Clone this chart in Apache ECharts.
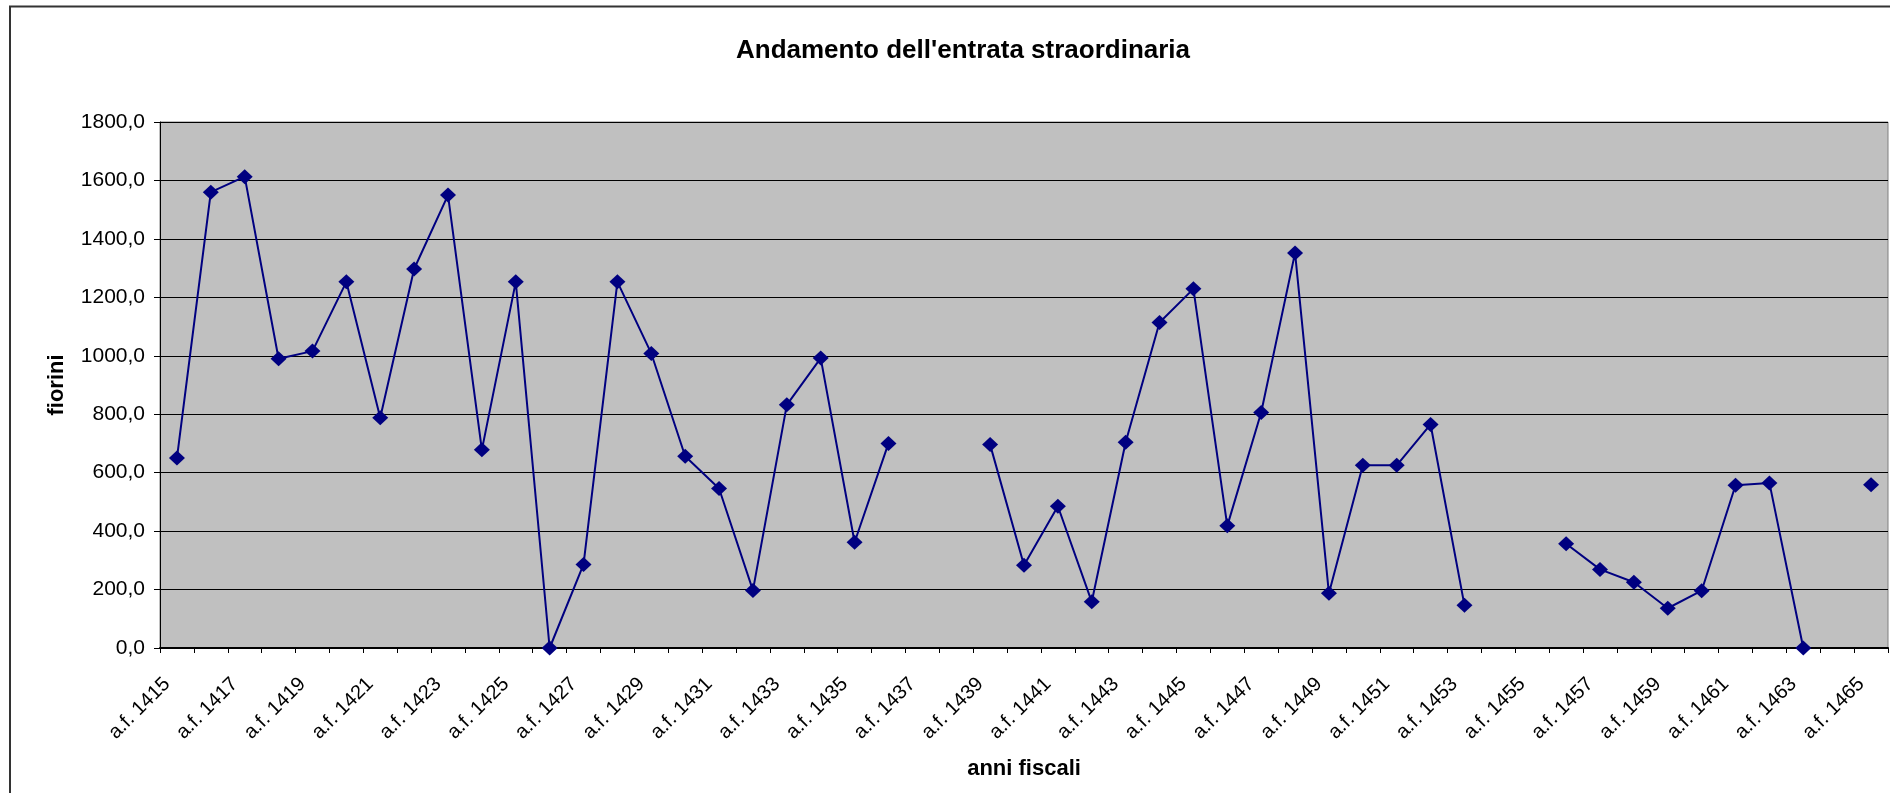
<!DOCTYPE html>
<html>
<head>
<meta charset="utf-8">
<title>Andamento dell'entrata straordinaria</title>
<script src="https://cdn.jsdelivr.net/npm/echarts@6/dist/echarts.min.js"></script>
<style>
  html, body { margin: 0; padding: 0; background: #fff; }
  #chart { width: 1890px; height: 793px; }
</style>
</head>
<body>
<div id="chart"></div>
<script>
// anni fiscali
const anni = [
  'a.f. 1415', 'a.f. 1416', 'a.f. 1417', 'a.f. 1418', 'a.f. 1419', 'a.f. 1420',
  'a.f. 1421', 'a.f. 1422', 'a.f. 1423', 'a.f. 1424', 'a.f. 1425', 'a.f. 1426',
  'a.f. 1427', 'a.f. 1428', 'a.f. 1429', 'a.f. 1430', 'a.f. 1431', 'a.f. 1432',
  'a.f. 1433', 'a.f. 1434', 'a.f. 1435', 'a.f. 1436', 'a.f. 1437', 'a.f. 1438',
  'a.f. 1439', 'a.f. 1440', 'a.f. 1441', 'a.f. 1442', 'a.f. 1443', 'a.f. 1444',
  'a.f. 1445', 'a.f. 1446', 'a.f. 1447', 'a.f. 1448', 'a.f. 1449', 'a.f. 1450',
  'a.f. 1451', 'a.f. 1452', 'a.f. 1453', 'a.f. 1454', 'a.f. 1455', 'a.f. 1456',
  'a.f. 1457', 'a.f. 1458', 'a.f. 1459', 'a.f. 1460', 'a.f. 1461', 'a.f. 1462',
  'a.f. 1463', 'a.f. 1464', 'a.f. 1465'
];

// entrata straordinaria (fiorini), null = anno senza dato
const entrata = [
  650, 1560, 1613, 990, 1016, 1253,
  788, 1297, 1550, 678, 1253, 0,
  286, 1253, 1008, 656, 546, 197,
  832, 992, 362, 700, null, null,
  696, 283, 485, 158, 704, 1114,
  1229, 418, 806, 1352, 187, 625,
  625, 765, 146, null, null, 357,
  269, 225, 136, 196, 557, 565,
  0, null, 559
];

const yMin = 0, yMax = 1800, yStep = 200;

const font = 'Liberation Sans, Arial, sans-serif';
const chart = echarts.init(document.getElementById('chart'));

const option = {
    animation: false,
    backgroundColor: '#fff',
    title: {
        text: "Andamento dell'entrata straordinaria",
        left: 958,
        textAlign: 'center',
        top: 33,
        textStyle: { fontFamily: font, fontSize: 26, fontWeight: 'bold', color: '#000' }
    },
    graphic: [{
        type: 'rect',
        shape: { x: 10, y: 6.5, width: 1900, height: 820 },
        style: { fill: 'none', stroke: '#333', lineWidth: 2 },
        silent: true
    }],
    grid: {
        left: 160,
        right: 2,
        top: 122,
        bottom: 145,
        show: true,
        backgroundColor: '#C0C0C0',
        borderColor: '#808080',
        borderWidth: 1
    },
    xAxis: {
        type: 'category',
        data: anni,
        boundaryGap: true,
        name: 'anni fiscali',
        nameLocation: 'middle',
        nameGap: 110,
        nameTextStyle: { fontFamily: font, fontSize: 22, fontWeight: 'bold', color: '#000' },
        axisLine: { show: true, lineStyle: { color: '#000', width: 2 } },
        axisTick: { show: true, interval: 0, length: 5, lineStyle: { color: '#000', width: 1 } },
        axisLabel: {
            interval: 1,
            rotate: 45,
            margin: 23,
            padding: [0, 14, 0, 0],
            fontFamily: font,
            fontSize: 20,
            color: '#000'
        },
        splitLine: { show: false }
    },
    yAxis: {
        type: 'value',
        min: yMin,
        max: yMax,
        interval: yStep,
        name: 'fiorini',
        nameLocation: 'middle',
        nameGap: 92,
        nameRotate: 90,
        nameTextStyle: { fontFamily: font, fontSize: 22, fontWeight: 'bold', color: '#000' },
        axisLine: { show: true, lineStyle: { color: '#000', width: 1 } },
        axisTick: { show: true, length: 6, lineStyle: { color: '#000' } },
        axisLabel: {
            margin: 15,
            fontFamily: font,
            fontSize: 21,
            color: '#000',
            formatter: v => v.toFixed(1).replace('.', ',')
        },
        splitLine: { show: true, lineStyle: { color: '#000', width: 1 } }
    },
    series: [{
        type: 'line',
        data: entrata,
        connectNulls: false,
        showSymbol: true,
        showAllSymbol: true,
        symbol: 'diamond',
        symbolSize: [16, 15],
        lineStyle: { color: '#000080', width: 2 },
        itemStyle: { color: '#000080' }
    }]
};

chart.setOption(option);
window.addEventListener('resize', function () {
    chart.resize();
});
</script>
</body>
</html>
